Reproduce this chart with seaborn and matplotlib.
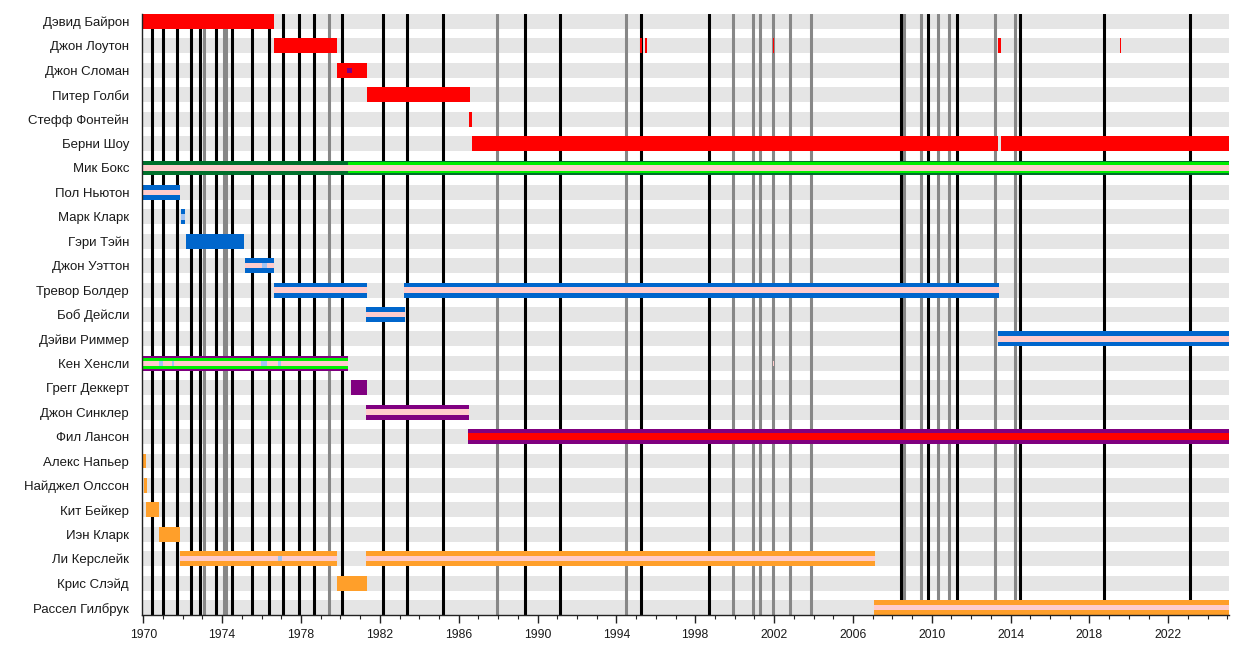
import matplotlib
matplotlib.use("Agg")
import matplotlib.pyplot as plt
import seaborn as sns
from matplotlib.ticker import MultipleLocator


START = 1969.91
END = 2025.08

members = [
    "Дэвид Байрон", "Джон Лоутон", "Джон Сломан", "Питер Голби",
    "Стефф Фонтейн", "Берни Шоу", "Мик Бокс", "Пол Ньютон",
    "Марк Кларк", "Гэри Тэйн", "Джон Уэттон", "Тревор Болдер",
    "Боб Дейсли", "Дэйви Риммер", "Кен Хенсли", "Грегг Деккерт",
    "Джон Синклер", "Фил Лансон", "Алекс Напьер", "Найджел Олссон",
    "Кит Бейкер", "Иэн Кларк", "Ли Керслейк", "Крис Слэйд",
    "Рассел Гилбрук",
]

# (member, start, end)
lead_vocals = [
    ("Дэвид Байрон", START, 1976.63),
    ("Джон Лоутон", 1976.63, 1979.81),
    ("Джон Лоутон", 1995.20, 1995.30),
    ("Джон Лоутон", 1995.44, 1995.54),
    ("Джон Лоутон", 2001.95, 2002.00),
    ("Джон Лоутон", 2013.38, 2013.50),
    ("Джон Лоутон", 2019.53, 2019.60),
    ("Джон Сломан", 1979.81, 1981.33),
    ("Питер Голби", 1981.33, 1986.59),
    ("Стефф Фонтейн", 1986.54, 1986.66),
    ("Берни Шоу", 1986.66, 2013.36),
    ("Берни Шоу", 2013.50, END),
]
lead_guitar = [("Мик Бокс", START, END)]
rhythm_guitar = [
    ("Мик Бокс", 1980.39, END),
    ("Кен Хенсли", START, 1980.39),
]
bass = [
    ("Пол Ньютон", START, 1971.88),
    ("Марк Кларк", 1971.90, 1972.13),
    ("Гэри Тэйн", 1972.15, 1975.11),
    ("Джон Уэттон", 1975.17, 1976.63),
    ("Тревор Болдер", 1976.63, 1981.33),
    ("Тревор Болдер", 1983.23, 2013.43),
    ("Боб Дейсли", 1981.30, 1983.28),
    ("Дэйви Риммер", 2013.35, END),
]
keyboards = [
    ("Кен Хенсли", START, 1980.39),
    ("Грегг Деккерт", 1980.52, 1981.33),
    ("Джон Синклер", 1981.28, 1986.54),
    ("Фил Лансон", 1986.49, END),
]
keyboards_inner = [("Джон Сломан", 1980.32, 1980.57)]
drums = [
    ("Алекс Напьер", START, 1970.12),
    ("Найджел Олссон", 1970.04, 1970.19),
    ("Кит Бейкер", 1970.12, 1970.81),
    ("Иэн Кларк", 1970.81, 1971.88),
    ("Ли Керслейк", 1971.88, 1979.81),
    ("Ли Керслейк", 1981.28, 2007.14),
    ("Крис Слэйд", 1979.81, 1981.33),
    ("Рассел Гилбрук", 2007.09, END),
]
backing_vocals = [
    ("Мик Бокс", START, END),
    ("Пол Ньютон", START, 1971.88),
    ("Джон Уэттон", 1975.17, 1976.63),
    ("Тревор Болдер", 1976.63, 1981.33),
    ("Тревор Болдер", 1983.23, 2013.43),
    ("Боб Дейсли", 1981.30, 1983.28),
    ("Дэйви Риммер", 2013.35, END),
    ("Кен Хенсли", START, 1980.39),
    ("Кен Хенсли", 2001.96, 2002.00),
    ("Джон Синклер", 1981.28, 1986.54),
    ("Ли Керслейк", 1971.88, 1979.81),
    ("Ли Керслейк", 1981.28, 2007.14),
    ("Рассел Гилбрук", 2007.09, END),
]
lanzon_vocals = [("Фил Лансон", 1986.49, END)]
percussion = [
    ("Марк Кларк", 1971.90, 1972.13),
    ("Джон Уэттон", 1976.01, 1976.26),
    ("Кен Хенсли", 1970.81, 1971.01),
    ("Кен Хенсли", 1971.44, 1971.54),
    ("Кен Хенсли", 1975.96, 1976.26),
    ("Кен Хенсли", 1976.85, 1976.99),
    ("Ли Керслейк", 1976.85, 1977.02),
]

studio_albums = [
    1970.46, 1971.01, 1971.72, 1972.42, 1972.88, 1973.69, 1974.52,
    1975.53, 1976.39, 1977.10, 1977.91, 1978.68, 1980.08, 1982.18,
    1983.36, 1985.22, 1989.35, 1991.13, 1995.25, 1998.69, 2008.46,
    2009.83, 2011.28, 2014.46, 2018.73, 2023.09,
]
live_albums = [
    1973.10, 1974.08, 1974.22, 1979.44, 1987.96, 1994.49, 1999.93,
    2000.95, 2001.27, 2001.96, 2002.80, 2003.88, 2008.61, 2009.46,
    2010.33, 2010.86, 2013.21, 2014.21,
]

FULL = 0.61
MID = 0.45
CENTER = 0.22

sns.set_theme(style="white")
plt.rcParams["font.family"] = ["Liberation Sans", "DejaVu Sans"]

fig = plt.figure(figsize=(12.59, 6.51), dpi=100)
ax = fig.add_axes([0.1124, 0.0553, 0.8638, 0.9232])

rows = list(range(len(members)))
ax.barh(rows, END - START, left=START, height=FULL,
        color="#e5e5e5", linewidth=0, zorder=0)

for year in live_albums:
    ax.axvline(year, color="#878787", linewidth=2.2, zorder=1)
for year in studio_albums:
    ax.axvline(year, color="black", linewidth=2.2, zorder=1.5)


def draw(segments, color, height, z):
    ys = [members.index(m) for m, s, e in segments]
    lefts = [s for m, s, e in segments]
    widths = [e - s for m, s, e in segments]
    ax.barh(ys, widths, left=lefts, height=height,
            color=color, linewidth=0, zorder=z)


draw(lead_vocals, "#ff0000", FULL, 3)
draw(lead_guitar, "#00702c", FULL, 3)
draw(bass, "#0066cc", FULL, 3)
draw(keyboards, "#800080", FULL, 3)
draw(drums, "#ff9f2a", FULL, 3)
draw(rhythm_guitar, "#00ee00", MID, 4)
draw(backing_vocals, "#ffcccc", CENTER, 5)
draw(lanzon_vocals, "#ff0000", 0.27, 5)
draw(keyboards_inner, "#800080", 0.19, 5)
draw(percussion, "#a3c4f3", CENTER, 6)

ax.set_xlim(START, END)
ax.set_ylim(len(members) - 1 + 0.305, -0.305)
ax.set_yticks(rows)
ax.set_yticklabels(members)
ax.xaxis.set_major_locator(MultipleLocator(4))
ax.xaxis.set_minor_locator(MultipleLocator(1))
ax.set_xticks(range(1970, 2025, 4))

ax.tick_params(axis="y", length=0, pad=9, labelsize=9.5, labelcolor="#1a1a1a")
ax.tick_params(axis="x", which="major", bottom=True, length=6, width=1,
               color="#222222", pad=4, labelsize=8.7, labelcolor="#1a1a1a")
ax.tick_params(axis="x", which="minor", bottom=True, length=3, width=0.8,
               color="#222222")

sns.despine(ax=ax)
for side in ["left", "bottom"]:
    ax.spines[side].set_color("#222222")
    ax.spines[side].set_linewidth(1)
    ax.spines[side].set_zorder(7)
ax.grid(False)

fig.savefig("out.png", dpi=100)
